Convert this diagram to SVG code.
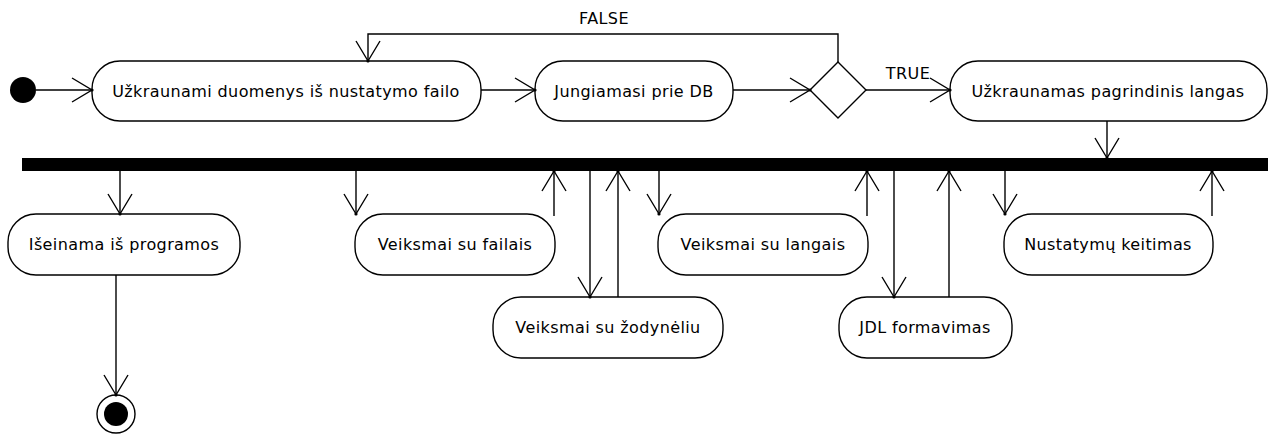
<svg xmlns="http://www.w3.org/2000/svg" width="1275" height="438" viewBox="0 0 1275 438">
<style>
.n{fill:#fff;stroke:#000;stroke-width:1.4}
.t{font-family:"DejaVu Sans",sans-serif;font-size:16px;letter-spacing:0.4px;fill:#000;text-anchor:middle;dominant-baseline:central}
.c{fill:none;stroke:#000;stroke-width:1.4}
</style>
<defs>
<marker id="a" viewBox="-22 -14 24 28" refX="0" refY="0" markerWidth="24" markerHeight="28" markerUnits="userSpaceOnUse" orient="auto">
<path d="M-20,-12 L0,0 L-20,12" fill="none" stroke="#000" stroke-width="1.4"/>
<circle cx="0" cy="0" r="1.6" fill="#000"/>
</marker>
</defs>
<rect width="1275" height="438" fill="#fff"/>
<g id="start"><circle cx="23" cy="90" r="13" fill="#000"/></g>
<g id="n1"><rect class="n" x="92" y="61" width="389" height="60" rx="28" ry="28"/><text class="t" x="286" y="91">Užkraunami duomenys iš nustatymo failo</text></g>
<g id="n2"><rect class="n" x="535" y="61" width="198" height="60" rx="28" ry="28"/><text class="t" x="634" y="91">Jungiamasi prie DB</text></g>
<g id="decision"><polygon class="n" points="838,62 866,90 838,118 810,90"/></g>
<g id="n3"><rect class="n" x="950" y="61" width="317" height="60" rx="28" ry="28"/><text class="t" x="1108" y="91">Užkraunamas pagrindinis langas</text></g>
<g id="bar"><rect x="22" y="158" width="1246" height="13" fill="#000"/></g>
<g id="n4"><rect class="n" x="8" y="214" width="232" height="61" rx="28" ry="28"/><text class="t" x="124" y="244">Išeinama iš programos</text></g>
<g id="n5"><rect class="n" x="355" y="214" width="200" height="61" rx="28" ry="28"/><text class="t" x="455" y="244">Veiksmai su failais</text></g>
<g id="n6"><rect class="n" x="493" y="297" width="230" height="61" rx="28" ry="28"/><text class="t" x="608" y="327">Veiksmai su žodynėliu</text></g>
<g id="n7"><rect class="n" x="658" y="214" width="210" height="61" rx="28" ry="28"/><text class="t" x="763" y="244">Veiksmai su langais</text></g>
<g id="n8"><rect class="n" x="839" y="297" width="173" height="61" rx="28" ry="28"/><text class="t" x="925" y="327">JDL formavimas</text></g>
<g id="n9"><rect class="n" x="1004" y="214" width="209" height="61" rx="28" ry="28"/><text class="t" x="1108" y="244">Nustatymų keitimas</text></g>
<g id="end"><circle cx="116" cy="414" r="19" fill="#fff" stroke="#000" stroke-width="1.4"/><circle cx="116" cy="414" r="12" fill="#000"/></g>
<g id="connectors">
<path class="c" d="M36,90 H92" marker-end="url(#a)"/>
<path class="c" d="M481,90 H535" marker-end="url(#a)"/>
<path class="c" d="M733,90 H810" marker-end="url(#a)"/>
<path class="c" d="M838,62 V34 H368 V61" marker-end="url(#a)"/>
<text class="t" x="604" y="18">FALSE</text>
<path class="c" d="M866,90 H950" marker-end="url(#a)"/>
<text class="t" x="908" y="73">TRUE</text>
<path class="c" d="M1107,121 V158" marker-end="url(#a)"/>
<path class="c" d="M120,171 V214" marker-end="url(#a)"/>
<path class="c" d="M116,275 V395" marker-end="url(#a)"/>
<path class="c" d="M356,171 V214" marker-end="url(#a)"/>
<path class="c" d="M554,216 V171" marker-end="url(#a)"/>
<path class="c" d="M590,171 V297" marker-end="url(#a)"/>
<path class="c" d="M618,297 V171" marker-end="url(#a)"/>
<path class="c" d="M659,171 V214" marker-end="url(#a)"/>
<path class="c" d="M867,216 V171" marker-end="url(#a)"/>
<path class="c" d="M894,171 V297" marker-end="url(#a)"/>
<path class="c" d="M949,297 V171" marker-end="url(#a)"/>
<path class="c" d="M1005,171 V214" marker-end="url(#a)"/>
<path class="c" d="M1212,216 V171" marker-end="url(#a)"/>
</g>
</svg>
